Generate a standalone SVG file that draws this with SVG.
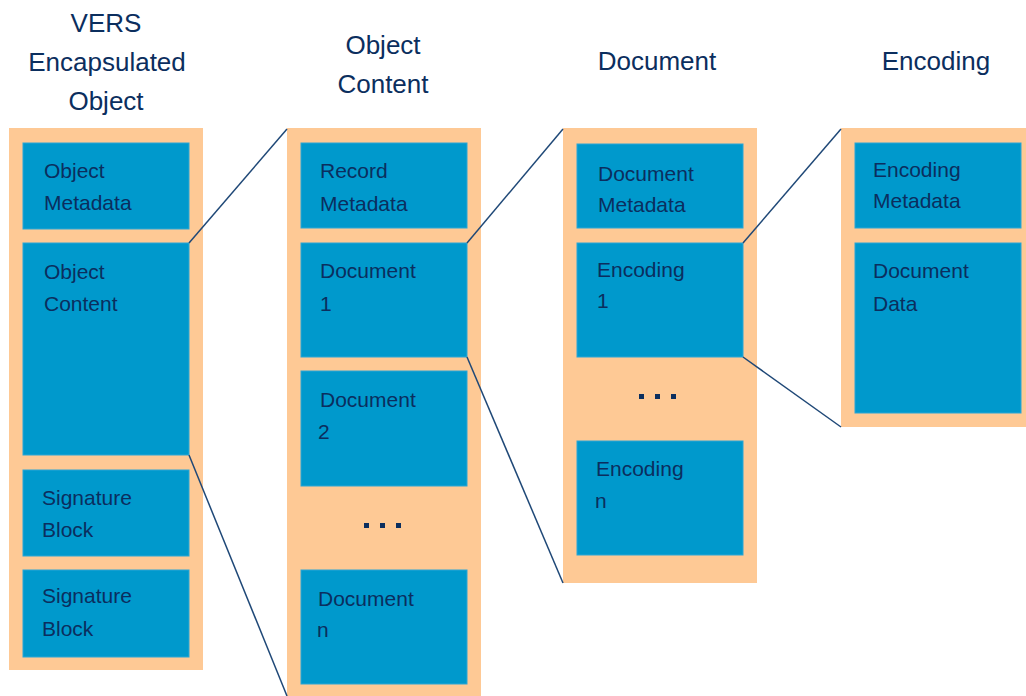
<svg xmlns="http://www.w3.org/2000/svg" width="1026" height="696" viewBox="0 0 1026 696">
<style>
.outer{fill:#FEC995}
.box{fill:#0099CC;stroke:#2AA6D6;stroke-width:1}
.t{font-family:"Liberation Sans",Arial,sans-serif;font-size:21px;fill:#0B2E5E}
.title{font-family:"Liberation Sans",Arial,sans-serif;font-size:26px;fill:#0B2E5E;text-anchor:middle}
.ln{stroke:#1F4877;stroke-width:1.5;fill:none}
.dot{fill:#0B2E5E}
</style>
<rect width="1026" height="696" fill="#FFFFFF"/>
<g id="titles">
<text class="title" x="106" y="32">VERS</text>
<text class="title" x="107" y="71">Encapsulated</text>
<text class="title" x="106" y="110">Object</text>
<text class="title" x="383" y="54">Object</text>
<text class="title" x="383" y="93">Content</text>
<text class="title" x="657" y="70">Document</text>
<text class="title" x="936" y="70">Encoding</text>
</g>
<g id="col-vers">
<rect class="outer" x="9" y="128" width="194" height="542"/>
</g>
<g id="object-metadata">
<rect class="box" x="23" y="143" width="166" height="86"/>
<text class="t" x="44" y="178">Object</text><text class="t" x="44" y="210">Metadata</text>
</g>
<g id="object-content">
<rect class="box" x="23" y="243" width="166" height="212"/>
<text class="t" x="44" y="279">Object</text><text class="t" x="44" y="311">Content</text>
</g>
<g id="signature-block-1">
<rect class="box" x="23" y="470" width="166" height="86"/>
<text class="t" x="42" y="505">Signature</text><text class="t" x="42" y="537">Block</text>
</g>
<g id="signature-block-2">
<rect class="box" x="23" y="570" width="166" height="87"/>
<text class="t" x="42" y="603">Signature</text><text class="t" x="42" y="636">Block</text>
</g>
<g id="col-object-content">
<rect class="outer" x="287" y="128" width="194" height="570"/>
<rect class="dot" x="364" y="523" width="5" height="5"/>
<rect class="dot" x="380" y="523" width="5" height="5"/>
<rect class="dot" x="396" y="523" width="5" height="5"/>
</g>
<g id="record-metadata">
<rect class="box" x="301" y="143" width="166" height="85"/>
<text class="t" x="320" y="178">Record</text><text class="t" x="320" y="211">Metadata</text>
</g>
<g id="document-1">
<rect class="box" x="301" y="243" width="166" height="114"/>
<text class="t" x="320" y="278">Document</text><text class="t" x="320" y="311">1</text>
</g>
<g id="document-2">
<rect class="box" x="301" y="371" width="166" height="115"/>
<text class="t" x="320" y="407">Document</text><text class="t" x="318" y="439">2</text>
</g>
<g id="document-n">
<rect class="box" x="301" y="570" width="166" height="114"/>
<text class="t" x="318" y="606">Document</text><text class="t" x="317" y="637">n</text>
</g>
<g id="col-document">
<rect class="outer" x="563" y="128" width="194" height="455"/>
<rect class="dot" x="639" y="394" width="5" height="5"/>
<rect class="dot" x="655" y="394" width="5" height="5"/>
<rect class="dot" x="671" y="394" width="5" height="5"/>
</g>
<g id="document-metadata">
<rect class="box" x="577" y="144" width="166" height="84"/>
<text class="t" x="598" y="181">Document</text><text class="t" x="598" y="212">Metadata</text>
</g>
<g id="encoding-1">
<rect class="box" x="577" y="243" width="166" height="114"/>
<text class="t" x="597" y="277">Encoding</text><text class="t" x="597" y="308">1</text>
</g>
<g id="encoding-n">
<rect class="box" x="577" y="441" width="166" height="114"/>
<text class="t" x="596" y="476">Encoding</text><text class="t" x="595" y="508">n</text>
</g>
<g id="col-encoding">
<rect class="outer" x="841" y="128" width="190" height="299"/>
</g>
<g id="encoding-metadata">
<rect class="box" x="855" y="143" width="166" height="85"/>
<text class="t" x="873" y="177">Encoding</text><text class="t" x="873" y="208">Metadata</text>
</g>
<g id="document-data">
<rect class="box" x="855" y="243" width="166" height="170"/>
<text class="t" x="873" y="278">Document</text><text class="t" x="873" y="311">Data</text>
</g>
<g id="connectors">
<line class="ln" x1="189" y1="243" x2="287" y2="129"/>
<line class="ln" x1="189" y1="455" x2="287" y2="696"/>
<line class="ln" x1="467" y1="243" x2="563" y2="129"/>
<line class="ln" x1="467" y1="357" x2="563" y2="583"/>
<line class="ln" x1="743" y1="243" x2="841" y2="129"/>
<line class="ln" x1="743" y1="357" x2="841" y2="427"/>
</g>
</svg>
